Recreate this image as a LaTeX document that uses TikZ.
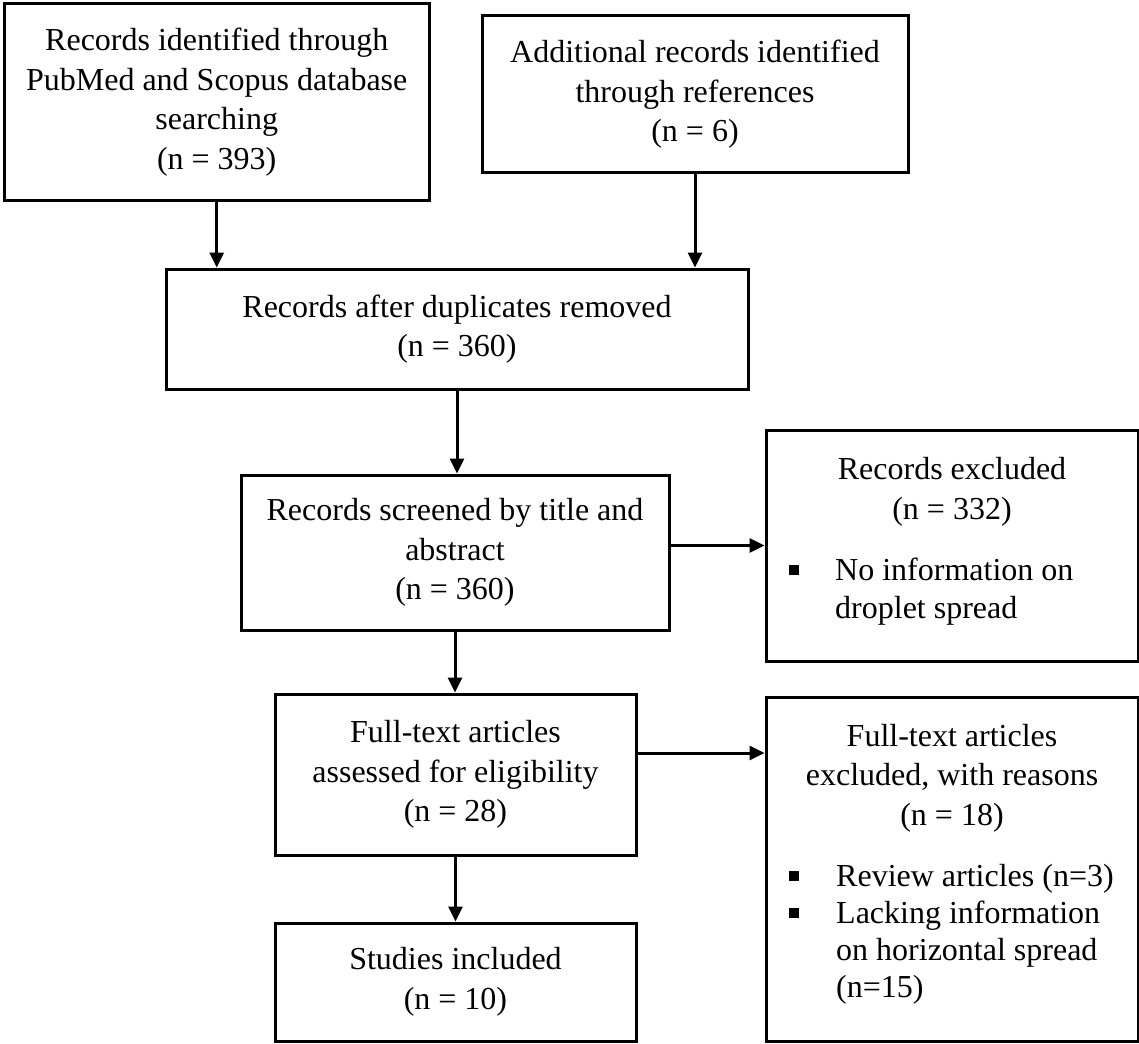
\documentclass[tikz,border=0pt]{standalone}
\usepackage{fontspec}
\setmainfont{Liberation Serif}
\usetikzlibrary{arrows.meta,calc}
\tikzset{
  txt/.style={font=\fontsize{32}{39.5}\selectfont, inner sep=0pt},
  box/.style={draw=black, line width=3pt, inner sep=0pt, align=center,
    font=\fontsize{32}{39.5}\selectfont},
  arr/.style={line width=3pt, -{Triangle[length=15pt,width=14pt]}},
  bul/.style={fill=black, minimum size=9.5pt, inner sep=0pt},
}
\begin{document}
\begin{tikzpicture}[x=1pt,y=-1pt]
\useasboundingbox (0,0) rectangle (1139,1043);
% boxes
\node[box, minimum width=424.5pt, minimum height=196pt] (b1) at (216.75,102)
  {Records identified through\\PubMed and Scopus database\\searching\\(n = 393)};
\node[box, minimum width=426pt, minimum height=157pt] (b2) at (695,94.5)
  {Additional records identified\\through references\\(n = 6)};
\node[box, minimum width=582pt, minimum height=120pt] (b3) at (457,329)
  {Records after duplicates removed\\(n = 360)};
\node[box, minimum width=428pt, minimum height=155pt] (b4) at (455,552.5)
  {Records screened by title and\\abstract\\(n = 360)};
\node[box, minimum width=372pt, minimum height=231pt] (b5) at (952,545.5) {};
\node[box, minimum width=361pt, minimum height=161pt] (b6) at (455.5,774.5)
  {Full-text articles\\assessed for eligibility\\(n = 28)};
\node[box, minimum width=372pt, minimum height=344pt] (b7) at (952,869) {};
\node[box, minimum width=361pt, minimum height=118pt] (b8) at (455.5,982)
  {Studies included\\(n = 10)};
% texts of the exclusion boxes (base = baseline of the last line)
\node[txt, anchor=base, align=center] (t5) at (952,519) {Records excluded\\(n = 332)};
\node[bul] (s5) at (794,570) {};
\node[txt, anchor=base west, align=left, font=\fontsize{32}{38}\selectfont] (i5) at (835,618) {No information on\\droplet spread};
\node[txt, anchor=base, align=center] (t7) at (952,825) {Full-text articles\\excluded, with reasons\\(n = 18)};
\node[bul] (s7a) at (794,876) {};
\node[txt, anchor=base west, align=left] (i7a) at (836,886) {Review articles (n=3)};
\node[bul] (s7b) at (794,913) {};
\node[txt, anchor=base west, align=left, font=\fontsize{32}{37}\selectfont] (i7b) at (836,997) {Lacking information\\on horizontal spread\\(n=15)};
% connectors
\draw[arr] (b1.south) -- (b1.south |- b3.north);
\draw[arr] (b2.south) -- (b2.south |- b3.north);
\draw[arr] (b3.south) -- (b3.south |- b4.north);
\draw[arr] (b4.east |- b5.west) -- (b5.west);
\draw[arr] (b4.south) -- (b4.south |- b6.north);
\draw[arr] ([yshift=21.5pt]b6.east) -- ([yshift=21.5pt]b6.east -| b7.west);
\draw[arr] (b6.south) -- (b6.south |- b8.north);
\end{tikzpicture}
\end{document}
